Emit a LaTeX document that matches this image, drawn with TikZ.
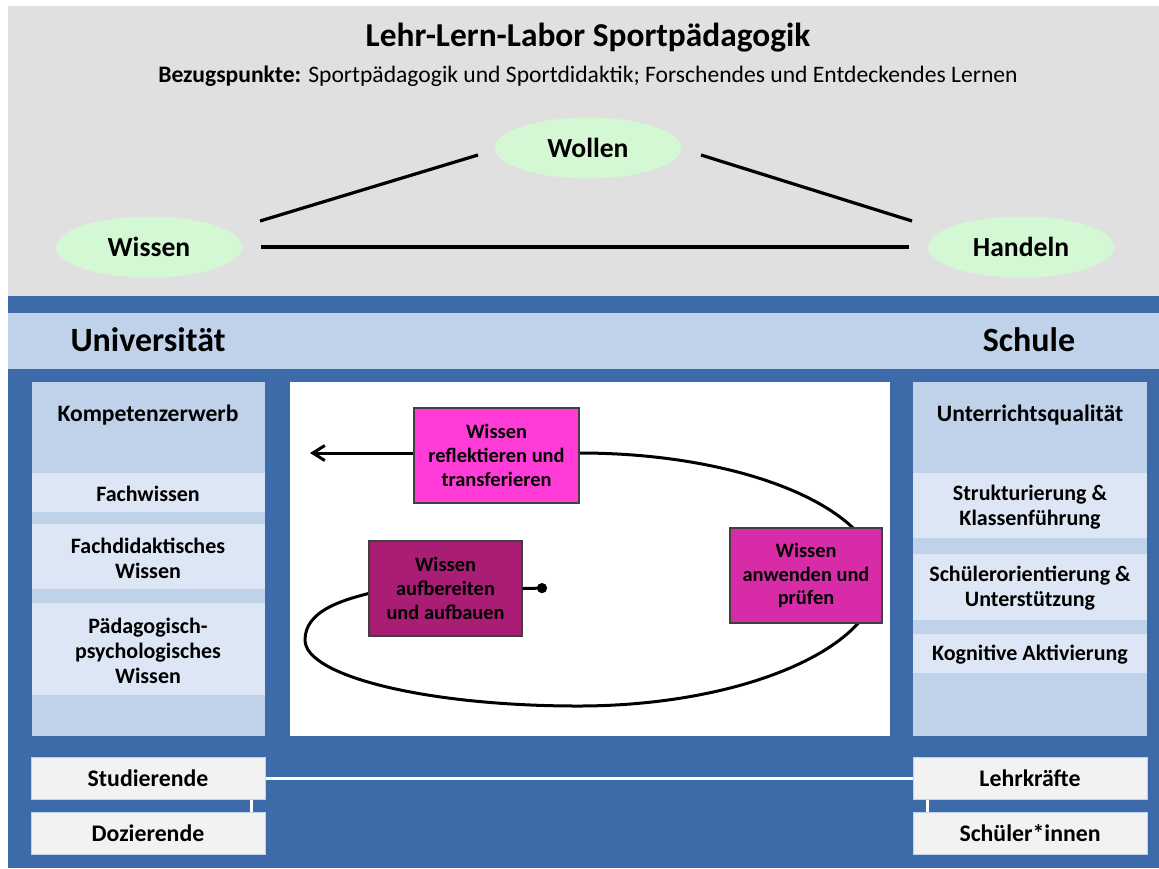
\documentclass[tikz,border=0pt]{standalone}
\usepackage{fontspec}
\setmainfont{Carlito}
\usetikzlibrary{arrows.meta,shapes.geometric}

\definecolor{topgray}{RGB}{224,224,224}
\definecolor{darkblue}{RGB}{61,106,168}
\definecolor{lightblue}{RGB}{192,210,234}
\definecolor{paleblue}{RGB}{221,230,244}
\definecolor{softgreen}{RGB}{212,248,212}
\definecolor{boxgray}{RGB}{242,242,242}
\definecolor{pinkbox}{RGB}{255,60,216}
\definecolor{plumbox}{RGB}{169,30,116}
\definecolor{orchidbox}{RGB}{216,43,168}

\pgfdeclarelayer{panels}
\pgfdeclarelayer{loop}
\pgfsetlayers{panels,loop,main}

\begin{document}
\begin{tikzpicture}[x=0.5pt,y=-0.5pt,
  goal/.style={ellipse, fill=softgreen, minimum width=93pt, minimum height=30.5pt,
    inner sep=0pt, font=\bfseries\fontsize{13.8}{15}\selectfont},
  link/.style={line width=1.6pt},
  band/.style={font=\bfseries\fontsize{11}{12.5}\selectfont, align=center},
  phase/.style={draw=black!75, line width=0.6pt, minimum height=47.5pt, inner sep=1pt,
    align=center, font=\bfseries\fontsize{10.2}{11.8}\selectfont},
  flowline/.style={line width=1.5pt},
  person/.style={fill=boxgray, draw=lightblue, line width=0.5pt, minimum width=117pt,
    minimum height=21pt, font=\bfseries\fontsize{11.9}{13}\selectfont}]
  \useasboundingbox (0,0) rectangle (1159,868);

  \begin{pgfonlayer}{panels}
    % Lab header
    \fill[topgray] (8,6) rectangle (1159,296);
    % Blue frame and headline band
    \fill[darkblue] (8,296) rectangle (1159,868);
    \fill[lightblue] (8,313) rectangle (1159,369);
    % Columns and centre field
    \fill[lightblue] (32,382) rectangle (265,736);
    \fill[lightblue] (913,382) rectangle (1147,736);
    \fill[white] (290,382) rectangle (890,736);
    % Pale bands
    \fill[paleblue] (32,473) rectangle (265,512);
    \fill[paleblue] (32,524) rectangle (265,589);
    \fill[paleblue] (32,603) rectangle (265,695);
    \fill[paleblue] (913,473) rectangle (1147,538);
    \fill[paleblue] (913,554) rectangle (1147,620);
    \fill[paleblue] (913,634) rectangle (1147,673);
  \end{pgfonlayer}

  % Title
  \node[font=\bfseries\fontsize{16.7}{19}\selectfont] (title) at (588,38) {Lehr-Lern-Labor Sportpädagogik};
  \node[font=\fontsize{11.8}{14}\selectfont] (refs) at (588,76)
    {\textbf{Bezugspunkte:} Sportpädagogik und Sportdidaktik; Forschendes und Entdeckendes Lernen};

  % Triangle
  \node[goal] (wollen) at (588,148) {Wollen};
  \node[goal] (wissen) at (149,247) {Wissen};
  \node[goal] (handeln) at (1021,247) {Handeln};
  \draw[link] ([shift={(111,-26)}]wissen.center) -- ([shift={(-110,7)}]wollen.center);
  \draw[link] ([shift={(113,7)}]wollen.center) -- ([shift={(-109,-26)}]handeln.center);
  \draw[link, shorten <=9.5pt, shorten >=9.5pt] (wissen) -- (handeln);

  % Headlines
  \node[font=\bfseries\fontsize{17}{19}\selectfont] (uni) at (148,340) {Universität};
  \node[font=\bfseries\fontsize{17}{19}\selectfont] (schule) at (1029,340) {Schule};

  % University column
  \node[band, font=\bfseries\fontsize{11.8}{13}\selectfont] (kompetenz) at (148,415) {Kompetenzerwerb};
  \node[band] (fachwissen) at (148,494) {Fachwissen};
  \node[band] (fachdidaktik) at (148,558) {Fachdidaktisches\\Wissen};
  \node[band] (paedpsych) at (148,651) {Pädagogisch-\\psychologisches\\Wissen};

  % School column
  \node[band, font=\bfseries\fontsize{11.8}{13}\selectfont] (qualitaet) at (1030,415) {Unterrichtsqualität};
  \node[band] (struktur) at (1030,507) {Strukturierung \&\\Klassenführung};
  \node[band] (orientierung) at (1030,588) {Schülerorientierung \&\\Unterstützung};
  \node[band] (aktivierung) at (1030,655) {Kognitive Aktivierung};

  % Learning loop
  \node[phase, fill=pinkbox, minimum width=82.5pt] (reflektieren) at (496.5,455.5)
    {Wissen\\reflektieren und\\transferieren};
  \node[phase, fill=plumbox, minimum width=76.5pt] (aufbereiten) at (445.5,588.5)
    {Wissen\\aufbereiten\\und aufbauen};
  \node[phase, fill=orchidbox, minimum width=76pt] (anwenden) at (806,575.5)
    {Wissen\\anwenden und\\prüfen};
  \coordinate (start) at (547,588);
  \coordinate (exit) at (310,453);
  \begin{pgfonlayer}{loop}
    \draw[flowline] ([yshift=-2.5pt]aufbereiten.west)
      .. controls (339,601) and (305,612) .. (305,640)
      .. controls (305,676) and (427,706) .. (578,706)
      .. controls (744,706) and (878,647) .. (878,578)
      .. controls (878,509) and (744,453) .. ([yshift=1.25pt]reflektieren.east);
  \end{pgfonlayer}
  \draw[flowline, -{Straight Barb[length=6pt,width=7.5pt,line width=1.5pt]}]
    ([yshift=1.25pt]reflektieren.west) -- (exit);
  \draw[flowline, -{Circle[length=5pt]}] (aufbereiten.east) -- (start);

  % Persons
  \node[person] (studierende) at (148,778) {Studierende};
  \node[person] (dozierende) at (148,833) {Dozierende};
  \node[person] (lehrkraefte) at (1030,778) {Lehrkräfte};
  \node[person] (schueler) at (1030,833) {Schüler*innen};
  \draw[white, line width=1.5pt] (studierende) -- (lehrkraefte);
  \draw[white, line width=1.5pt] ([xshift=-7pt]studierende.south east) -- ([xshift=-7pt]dozierende.north east);
  \draw[white, line width=1.5pt] ([xshift=7.5pt]lehrkraefte.south west) -- ([xshift=7.5pt]schueler.north west);
\end{tikzpicture}
\end{document}
